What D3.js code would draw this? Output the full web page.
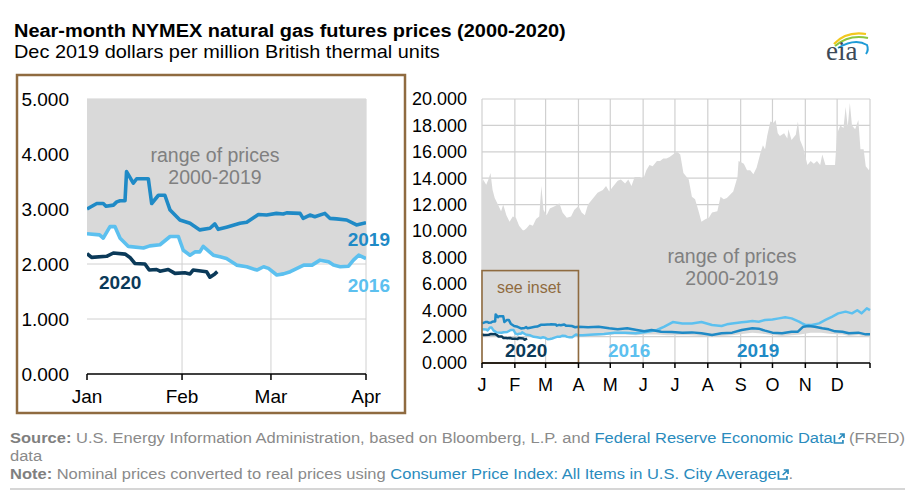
<!DOCTYPE html>
<html><head><meta charset="utf-8">
<script src="https://cdn.jsdelivr.net/npm/d3@7"></script>
<style>body{margin:0;background:#fff}svg{display:block;font-family:"Liberation Sans",Arial,sans-serif}</style>
</head><body><svg id="c" width="912" height="499"></svg>
<script>
// ---------- DATA (day offset from Jan 1, value in $/MMBtu) ----------
const rangeHigh = [[0,13.6],[1,13.9],[4,13.5],[6,13.9],[8,14.4],[10,13.1],[12,12.5],[15,12.0],[18,11.5],[20,12.0],[23,11.2],[26,10.7],[29,11.1],[32,11.0],[35,10.4],[39,10.0],[42,10.2],[45,10.5],[48,10.4],[51,10.9],[54,11.1],[56,13.4],[58,11.6],[61,11.2],[64,11.7],[69,11.9],[73,12.1],[76,11.4],[80,11.0],[84,11.1],[87,11.6],[91,11.9],[94,11.4],[97,11.2],[100,12.0],[105,12.5],[109,12.9],[114,13.1],[117,13.4],[120,13.0],[124,13.4],[128,13.8],[131,13.9],[135,13.6],[138,13.9],[141,13.4],[144,14.1],[149,14.1],[152,13.9],[155,14.6],[158,15.0],[161,14.9],[165,15.3],[168,15.3],[171,15.5],[174,15.5],[177,15.6],[182,15.9],[184,16.0],[187,15.8],[190,14.4],[195,13.9],[198,12.6],[201,12.4],[204,11.6],[207,10.7],[211,10.9],[214,11.0],[217,11.4],[222,11.5],[225,12.6],[228,12.4],[231,12.5],[234,12.75],[237,13.0],[241,14.1],[242,15.3],[247,15.1],[250,14.6],[253,14.6],[256,14.3],[259,14.8],[263,16.0],[265,16.5],[267,16.2],[269,17.2],[272,18.3],[275,18.2],[277,18.4],[279,17.4],[281,17.2],[285,17.4],[288,17.0],[289,17.7],[292,16.9],[296,17.3],[298,18.3],[300,16.9],[303,16.3],[307,15.0],[310,15.3],[313,15.1],[316,15.3],[319,15.0],[321,15.8],[324,15.0],[329,15.0],[333,15.0],[335,17.4],[338,18.0],[341,17.8],[343,19.4],[345,17.9],[347,19.7],[349,18.0],[352,17.7],[355,18.4],[357,16.2],[360,16.2],[362,14.9],[365,14.6],[366,14.8]];
const rangeLow = [[0,2.55],[4.1,2.53],[5.3,2.47],[7.5,2.68],[9.1,2.68],[10.8,2.47],[13.5,2.32],[18.4,2.29],[20.5,2.33],[23.8,2.35],[27.1,2.5],[29.8,2.5],[31.4,2.25],[33.6,2.16],[35.2,2.22],[36.8,2.22],[37.9,2.32],[41.2,2.16],[43.4,2.13],[45.5,2.1],[48.8,1.98],[52.1,1.95],[55.4,1.89],[57.6,1.95],[59.2,1.92],[61.9,1.8],[64.1,1.82],[66.3,1.86],[68.5,1.92],[70.7,1.98],[73.4,1.98],[76,2.07],[78.8,2.04],[80.4,1.98],[82.6,1.95],[85.3,1.96],[86.9,2.07],[88.6,2.16],[91,2.1],[95,2.05],[105,2.05],[115,2.1],[125,2.15],[135,2.15],[145,2.1],[155,2.15],[165,2.15],[175,2.1],[185,2.1],[195,2.1],[207,2.05],[217,2.0],[226,2.05],[236,2.1],[245,2.2],[255,2.3],[267,2.2],[275,2.1],[283,2.05],[292,2.1],[300,2.15],[310,2.3],[320,2.3],[330,2.2],[340,2.15],[346,2.05],[355,2.1],[362,2.0],[366,2.0]];
const series2019 = [[0,3.0],[3.2,3.1],[5.3,3.1],[6.2,3.05],[8.6,3.07],[9.7,3.13],[10.8,3.15],[12.4,3.15],[12.9,3.68],[15.1,3.47],[16.2,3.55],[20,3.55],[21.1,3.1],[23.3,3.25],[25.4,3.25],[27.1,2.98],[30.3,2.8],[33.6,2.74],[36.8,2.62],[40.1,2.65],[41.7,2.73],[42.8,2.63],[45.5,2.67],[49.9,2.74],[52.1,2.76],[54.8,2.86],[55.9,2.9],[58.6,2.89],[61.8,2.92],[64,2.91],[65.1,2.93],[69.5,2.92],[70.5,2.83],[72.7,2.89],[74.3,2.86],[77.6,2.92],[79.2,2.83],[81.4,2.82],[84.7,2.8],[87.9,2.71],[91,2.75],[100,2.7],[110,2.75],[120,2.63],[128,2.55],[137,2.63],[146,2.5],[153,2.4],[160,2.5],[169,2.37],[179,2.35],[189,2.3],[198,2.32],[207,2.25],[217,2.12],[226,2.25],[236,2.3],[245,2.5],[255,2.63],[261,2.6],[267,2.45],[274,2.3],[283,2.25],[292,2.37],[298,2.37],[303,2.75],[308,2.8],[314,2.75],[321,2.63],[327,2.55],[333,2.4],[340,2.37],[346,2.25],[355,2.3],[362,2.17],[366,2.17]];
const series2016 = [[0,2.55],[4.1,2.53],[5.3,2.47],[7.5,2.68],[9.1,2.68],[10.8,2.47],[13.5,2.32],[18.4,2.29],[20.5,2.33],[23.8,2.35],[27.1,2.5],[29.8,2.5],[31.4,2.25],[33.6,2.16],[35.2,2.22],[36.8,2.22],[37.9,2.32],[41.2,2.16],[43.4,2.13],[45.5,2.1],[48.8,1.98],[52.1,1.95],[55.4,1.89],[57.6,1.95],[59.2,1.92],[61.9,1.8],[64.1,1.82],[66.3,1.86],[68.5,1.92],[70.7,1.98],[73.4,1.98],[76,2.07],[78.8,2.04],[80.4,1.98],[82.6,1.95],[85.3,1.96],[86.9,2.07],[88.6,2.16],[91,2.1],[95,2.1],[105,2.15],[115,2.2],[125,2.3],[135,2.3],[145,2.25],[155,2.35],[165,2.5],[172,2.75],[180,3.1],[189,3.0],[198,3.0],[207,3.1],[217,2.88],[226,2.8],[231,2.93],[236,3.0],[245,3.08],[250,3.13],[255,3.18],[261,3.13],[267,3.26],[274,3.3],[280,3.38],[286,3.46],[292,3.38],[299,3.13],[302,3.0],[305,2.88],[311,2.88],[318,3.0],[324,3.26],[330,3.5],[336,3.76],[343,3.89],[349,3.76],[354,4.0],[358,3.76],[363,4.14],[366,4.0]];
const series2020 = [[0,2.19],[1.5,2.12],[6.4,2.14],[8.6,2.2],[12.4,2.18],[14,2.12],[15.6,2.01],[18.9,2.0],[20.3,1.89],[22.7,1.9],[23.8,1.87],[26.5,1.9],[28.7,1.83],[31.9,1.84],[33.6,1.82],[34.6,1.89],[39,1.86],[40.1,1.76],[41.7,1.82],[42.5,1.86]];
const insetMonthLabels = ["Jan","Feb","Mar","Apr"];
const yearMonthLabels = ["J","F","M","A","M","J","J","A","S","O","N","D"];
const insetYTicks = [0,1,2,3,4,5];
const fullYTicks = [0,2,4,6,8,10,12,14,16,18,20];

// ---------- STYLE ----------
const C2019 = "#1f8ac6", C2016 = "#5cc0ef", C2020 = "#0b3a59";
const GRAY = "#d9d9d9", GRID = "#d0d0d0", BROWN = "#8f6b40", TXTGRAY = "#808080";
const BASE = Date.UTC(2020,0,1);
const toDate = d => new Date(BASE + d*864e5);
const fmt = d3.format(".3f");

const svg = d3.select("#c");

// ---------- TITLE ----------
function fitText(sel, target){ const w = sel.node().getComputedTextLength(); return target / w; }
const t1 = svg.append("text").attr("font-size",19).attr("font-weight","bold").attr("fill","#000").text("Near-month NYMEX natural gas futures prices (2000-2020)");
t1.attr("transform",`translate(14,37) scale(${fitText(t1,552)},1)`);
const t2 = svg.append("text").attr("font-size",18).attr("fill","#000").text("Dec 2019 dollars per million British thermal units");
t2.attr("transform",`translate(14,58) scale(${fitText(t2,426)},1)`);

// EIA logo
const logo = svg.append("g");
logo.append("path").attr("d","M834,44 Q846,31 866,34").attr("fill","none").attr("stroke","#f2c81e").attr("stroke-width",2.2);
logo.append("path").attr("d","M835,46 Q849,34 868,38").attr("fill","none").attr("stroke","#8cc63f").attr("stroke-width",2.2);
logo.append("path").attr("d","M838,48 Q855,38 867,45 Q869,50 866,54").attr("fill","none").attr("stroke","#1e9bd7").attr("stroke-width",2);
logo.append("text").attr("x",826).attr("y",60).attr("font-family","'Liberation Serif','DejaVu Serif',serif").attr("font-size",27).attr("fill","#3d4a58").text("eia");

// ---------- LEFT (INSET) PANEL ----------
const L = {x0:87, x1:366, y0:374, y1:99};
const xL = d3.scaleUtc().domain([toDate(0), toDate(91)]).range([L.x0, L.x1]);
const yL = d3.scaleLinear().domain([0,5]).range([L.y0, L.y1]);

svg.append("rect").attr("x",17).attr("y",75).attr("width",388).attr("height",338).attr("fill","none").attr("stroke",BROWN).attr("stroke-width",2.5);

svg.append("clipPath").attr("id","clipL").append("rect").attr("x",L.x0).attr("y",L.y1).attr("width",L.x1-L.x0).attr("height",L.y0-L.y1);
const gL = svg.append("g");
// grid
gL.selectAll(".hg").data(insetYTicks.filter(v=>v>0)).join("line").attr("x1",L.x0).attr("x2",L.x1).attr("y1",d=>yL(d)).attr("y2",d=>yL(d)).attr("stroke",GRID).attr("stroke-width",1);
const monthsL = d3.utcMonth.range(toDate(0), toDate(92));
gL.selectAll(".vg").data(monthsL.slice(1)).join("line").attr("x1",d=>xL(d)).attr("x2",d=>xL(d)).attr("y1",L.y1).attr("y2",L.y0).attr("stroke",GRID).attr("stroke-width",1);

function bandPath(x, y){
  const pts = rangeHigh.map(d=>[x(toDate(d[0])), y(d[1])]).concat(rangeLow.slice().reverse().map(d=>[x(toDate(d[0])), y(d[1])]));
  return d3.line()(pts) + "Z";
}
const plotL = gL.append("g").attr("clip-path","url(#clipL)");
plotL.append("path").attr("d",bandPath(xL,yL)).attr("fill",GRAY);
const lineL = d3.line().x(d=>xL(toDate(d[0]))).y(d=>yL(d[1])).curve(d3.curveLinear);
[[series2016,C2016],[series2019,C2019],[series2020,C2020]].forEach(([s,c])=>{
  plotL.append("path").attr("d",lineL(s.filter(d=>d[0]<=92))).attr("fill","none").attr("stroke",c).attr("stroke-width",3.6).attr("stroke-linejoin","round");
});
// axes
gL.append("line").attr("x1",L.x0).attr("x2",L.x1).attr("y1",L.y0).attr("y2",L.y0).attr("stroke","#000").attr("stroke-width",1.5);
gL.selectAll(".xt").data(monthsL).join("line").attr("x1",d=>xL(d)).attr("x2",d=>xL(d)).attr("y1",L.y0).attr("y2",L.y0+6).attr("stroke","#000").attr("stroke-width",1.5);
gL.selectAll(".xl").data(monthsL).join("text").attr("x",d=>xL(d)).attr("y",403).attr("text-anchor","middle").attr("font-size",19).attr("fill","#000").text((d,i)=>insetMonthLabels[i]);
gL.selectAll(".yl").data(insetYTicks).join("text").attr("x",69).attr("y",d=>yL(d)).attr("dy","0.36em").attr("text-anchor","end").attr("font-size",19).attr("fill","#000").text(d=>fmt(d));
// annotations
gL.append("text").attr("x",215).attr("y",162).attr("text-anchor","middle").attr("font-size",19.5).attr("fill",TXTGRAY).text("range of prices");
gL.append("text").attr("x",215).attr("y",184).attr("text-anchor","middle").attr("font-size",19.5).attr("fill",TXTGRAY).text("2000-2019");
gL.append("text").attr("x",390).attr("y",246).attr("text-anchor","end").attr("font-size",19).attr("font-weight","bold").attr("fill",C2019).text("2019");
gL.append("text").attr("x",390).attr("y",292).attr("text-anchor","end").attr("font-size",19).attr("font-weight","bold").attr("fill",C2016).text("2016");
gL.append("text").attr("x",99).attr("y",289).attr("font-size",19).attr("font-weight","bold").attr("fill",C2020).text("2020");

// ---------- RIGHT (FULL YEAR) PANEL ----------
const R = {x0:482, x1:870, y0:363, y1:99};
const xR = d3.scaleUtc().domain([toDate(0), toDate(366)]).range([R.x0, R.x1]);
const yR = d3.scaleLinear().domain([0,20]).range([R.y0, R.y1]);
const gR = svg.append("g");
const monthsR = d3.utcMonth.range(toDate(0), toDate(367));
gR.selectAll(".hg").data(fullYTicks.filter(v=>v>0)).join("line").attr("x1",R.x0).attr("x2",R.x1).attr("y1",d=>yR(d)).attr("y2",d=>yR(d)).attr("stroke",GRID).attr("stroke-width",1.2);
gR.selectAll(".vg").data(monthsR).join("line").attr("x1",d=>xR(d)).attr("x2",d=>xR(d)).attr("y1",R.y1).attr("y2",R.y0).attr("stroke",GRID).attr("stroke-width",1.2);
gR.append("path").attr("d",bandPath(xR,yR)).attr("fill",GRAY);
const lineR = d3.line().x(d=>xR(toDate(d[0]))).y(d=>yR(d[1]));
[[series2016,C2016],[series2019,C2019],[series2020,C2020]].forEach(([s,c])=>{
  gR.append("path").attr("d",lineR(s)).attr("fill","none").attr("stroke",c).attr("stroke-width",2.5).attr("stroke-linejoin","round");
});
// inset marker box
gR.append("rect").attr("x",xR(toDate(0))).attr("y",yR(7)).attr("width",xR(toDate(91))-xR(toDate(0))).attr("height",yR(0)-yR(7)).attr("fill","none").attr("stroke",BROWN).attr("stroke-width",1.6);
gR.append("text").attr("x",529).attr("y",293).attr("text-anchor","middle").attr("font-size",16).attr("fill",BROWN).text("see inset");
// axes
gR.append("line").attr("x1",R.x0).attr("x2",R.x1).attr("y1",R.y0).attr("y2",R.y0).attr("stroke","#000").attr("stroke-width",1.5);
gR.selectAll(".xt").data(monthsR).join("line").attr("x1",d=>xR(d)).attr("x2",d=>xR(d)).attr("y1",R.y0).attr("y2",R.y0+5).attr("stroke","#000").attr("stroke-width",1.5);
gR.selectAll(".xl").data(monthsR.slice(0,12)).join("text").attr("x",d=>xR(d)).attr("y",391).attr("text-anchor","middle").attr("font-size",18).attr("fill","#000").text((d,i)=>yearMonthLabels[i]);
gR.selectAll(".yl").data(fullYTicks).join("text").attr("x",467).attr("y",d=>yR(d)).attr("dy","0.36em").attr("text-anchor","end").attr("font-size",18).attr("fill","#000").text(d=>fmt(d));
gR.append("text").attr("x",732).attr("y",263).attr("text-anchor","middle").attr("font-size",19.5).attr("fill",TXTGRAY).text("range of prices");
gR.append("text").attr("x",732).attr("y",285).attr("text-anchor","middle").attr("font-size",19.5).attr("fill",TXTGRAY).text("2000-2019");
gR.append("text").attr("x",505).attr("y",357).attr("font-size",19).attr("font-weight","bold").attr("fill",C2020).text("2020");
gR.append("text").attr("x",608).attr("y",357).attr("font-size",19).attr("font-weight","bold").attr("fill",C2016).text("2016");
gR.append("text").attr("x",737).attr("y",357).attr("font-size",19).attr("font-weight","bold").attr("fill",C2019).text("2019");

// ---------- FOOTER ----------
const LINK = "#2a8bbd", FG = "#8a8a8a";
const foot = svg.append("g");
const inner = foot.append("g");
function writeLine(segs, y){
  let cx = 0;
  segs.forEach(s=>{
    if (s.icon){
      const ix = cx + 1.5, iy = y;
      inner.append("path").attr("d",`M${ix},${iy-8} V${iy} H${ix+8} V${iy-3} M${ix+4},${iy-4} L${ix+9},${iy-9} M${ix+5},${iy-9} H${ix+9} V${iy-5}`)
        .attr("fill","none").attr("stroke",LINK).attr("stroke-width",1.6);
      cx += 11;
      return;
    }
    const t = inner.append("text").attr("x",cx).attr("y",y).attr("font-size",15.5).attr("fill",s.c).attr("font-weight",s.b?"bold":"normal").style("white-space","pre").text(s.t);
    cx += t.node().getComputedTextLength();
  });
  return cx;
}
const w1 = writeLine([{t:"Source:",c:"#7f7f7f",b:true},{t:" U.S. Energy Information Administration, based on Bloomberg, L.P. and ",c:FG},{t:"Federal Reserve Economic Data",c:LINK},{icon:true},{t:" (FRED)",c:FG}], 443);
writeLine([{t:"data",c:FG}], 461);
writeLine([{t:"Note:",c:"#7f7f7f",b:true},{t:" Nominal prices converted to real prices using ",c:FG},{t:"Consumer Price Index: All Items in U.S. City Average",c:LINK},{icon:true},{t:".",c:FG}], 479);
inner.attr("transform",`translate(10,0) scale(${895/w1},1)`);
svg.append("line").attr("x1",10).attr("x2",905).attr("y1",489).attr("y2",489).attr("stroke","#d6d6d6").attr("stroke-width",2);
</script></body></html>
